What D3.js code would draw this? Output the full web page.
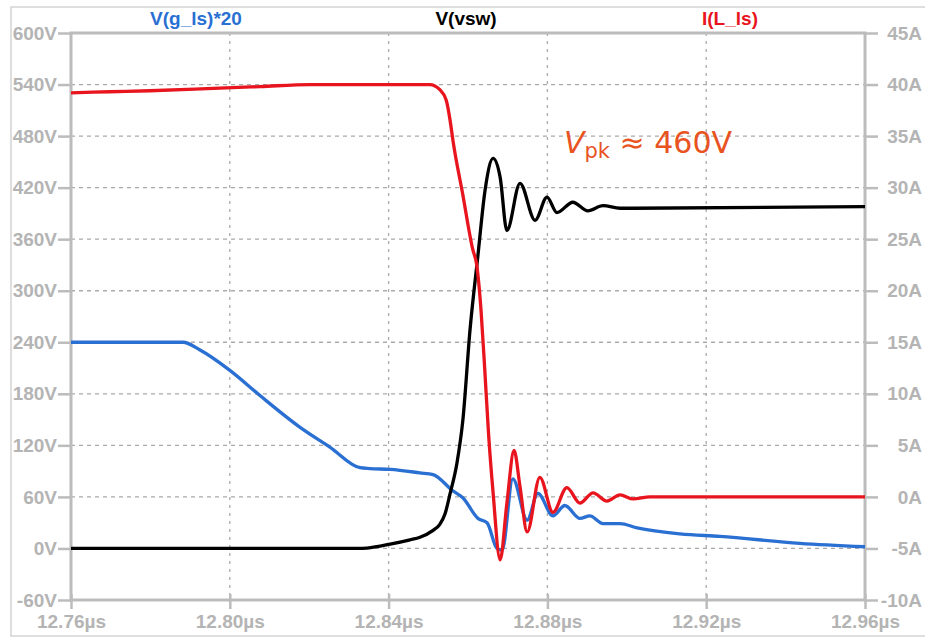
<!DOCTYPE html>
<html>
<head>
<meta charset="utf-8">
<script src="https://cdn.jsdelivr.net/npm/d3@7"></script>
<style>
  body { margin: 0; background: #fff; }
  svg { display: block; }
</style>
</head>
<body>
<svg id="chart" width="925" height="639"></svg>
<script>
// time axis ticks (µs)
const xTicks = [12.76, 12.80, 12.84, 12.88, 12.92, 12.96];
const vTicks = [-60, 0, 60, 120, 180, 240, 300, 360, 420, 480, 540, 600];
const aTicks = [-10, -5, 0, 5, 10, 15, 20, 25, 30, 35, 40, 45];

// V(g_ls)*20, volts on left axis
const gateT = [12.7600, 12.7882, 12.7925, 12.8001, 12.8076, 12.8177, 12.8252, 12.8328, 12.8353, 12.8404,
  12.8479, 12.8512, 12.8562, 12.8587, 12.8625, 12.8648, 12.8673, 12.8686, 12.8713, 12.8749, 12.8776,
  12.8814, 12.8844, 12.8882, 12.8907, 12.8940, 12.8983, 12.9026, 12.9134, 12.9235, 12.9436, 12.9600];
const gateV = [240, 240, 231, 207, 178, 141, 118, 94, 93, 92,
  88, 86, 67, 59, 35, 30, 0, -2, 81, 33, 64,
  38, 50, 35, 38, 29, 29, 24, 17, 14, 6, 2];

// V(vsw), volts on left axis
const vswT = [12.7600, 12.8328, 12.8346, 12.8404, 12.8454, 12.8479, 12.8512, 12.8529, 12.8542, 12.8555,
  12.8572, 12.8587, 12.8605, 12.8625, 12.8643, 12.8663, 12.8681, 12.8698, 12.8731, 12.8769, 12.8799,
  12.8824, 12.8864, 12.8902, 12.8940, 12.8983, 12.9600];
const vswV = [0, 0, 0.5, 5, 10, 13, 21, 28, 40, 64,
  99, 149, 254, 341, 417, 454, 432, 370, 425, 382, 409,
  391, 403, 393, 399, 396, 398];

// I(L_ls), amps on right axis
const ilT = [12.7600, 12.7698, 12.7799, 12.7943, 12.8076, 12.8202, 12.8421, 12.8504, 12.8529, 12.8545,
  12.8555, 12.8562, 12.8587, 12.8612, 12.8622, 12.8633, 12.8642, 12.8652, 12.8663, 12.8681,
  12.8698, 12.8716, 12.8731, 12.8749, 12.8781, 12.8814, 12.8849, 12.8882, 12.8915, 12.8950, 12.8983,
  12.9016, 12.9058, 12.9600];
const ilA = [39.2, 39.3, 39.4, 39.6, 39.8, 40.0, 40.0, 40.0, 39.5, 38.5,
  36.5, 34.6, 29.3, 24, 22.5, 18, 12.5, 6.0, 0.5, -6.1,
  -0.6, 4.5, 1.0, -3.4, 1.9, -1.5, 0.9, -0.6, 0.4, -0.4, 0.2,
  -0.2, 0, 0];

const plot = {left: 71, right: 865, top: 33, bottom: 600};
const axisColor = "#bcbcbc";
const labelColor = "#b4b4b4";

const svg = d3.select("#chart");

const x = d3.scaleLinear().domain([12.76, 12.96]).range([plot.left, plot.right]);
const yV = d3.scaleLinear().domain([-60, 600]).range([plot.bottom, plot.top]);
const yA = d3.scaleLinear().domain([-10, 45]).range([plot.bottom, plot.top]);

// outer picture frame
svg.append("rect")
    .attr("x", 11).attr("y", 7)
    .attr("width", 1000).attr("height", 629)
    .attr("fill", "none")
    .attr("stroke", "#d4d4d4")
    .attr("stroke-width", 1.5);

// grid
svg.append("g").selectAll("line")
    .data(vTicks.slice(1, -1))
    .enter().append("line")
    .attr("x1", plot.left).attr("x2", plot.right)
    .attr("y1", d => yV(d)).attr("y2", d => yV(d))
    .attr("stroke", "#aaaaaa")
    .attr("stroke-width", 1.3)
    .attr("stroke-dasharray", "4,4");

svg.append("g").selectAll("line")
    .data(xTicks.slice(1, -1))
    .enter().append("line")
    .attr("x1", d => x(d)).attr("x2", d => x(d))
    .attr("y1", plot.top).attr("y2", plot.bottom)
    .attr("stroke", "#aaaaaa")
    .attr("stroke-width", 1.3)
    .attr("stroke-dasharray", "3,5");

// axes with d3
const fontSpec = g => g.selectAll("text")
    .attr("fill", labelColor)
    .style("font-family", "'Liberation Sans', Arial, sans-serif")
    .style("font-size", "19px")
    .style("font-weight", "bold");

const leftAxis = svg.append("g")
    .attr("transform", `translate(${plot.left},0)`)
    .call(d3.axisLeft(yV).tickValues(vTicks).tickFormat(d => d + "V").tickSize(13).tickPadding(1));

const rightAxis = svg.append("g")
    .attr("transform", `translate(${plot.right},0)`)
    .call(d3.axisRight(yA).tickValues(aTicks).tickFormat(d => d + "A").tickSize(13).tickPadding(4));
rightAxis.selectAll("text").attr("text-anchor", "end").attr("x", 922 - plot.right);

const bottomAxis = svg.append("g")
    .attr("transform", `translate(0,${plot.bottom})`)
    .call(d3.axisBottom(x).tickValues(xTicks).tickFormat(d => d.toFixed(2) + "µs").tickSize(9).tickPadding(6));

[leftAxis, rightAxis, bottomAxis].forEach(g => {
    g.select(".domain").remove();
    g.selectAll(".tick line").attr("stroke", axisColor).attr("stroke-width", 2.5);
    fontSpec(g);
});
bottomAxis.selectAll(".tick line").attr("y1", -6);

// plot frame
svg.append("rect")
    .attr("x", plot.left).attr("y", plot.top)
    .attr("width", plot.right - plot.left)
    .attr("height", plot.bottom - plot.top)
    .attr("fill", "none")
    .attr("stroke", axisColor)
    .attr("stroke-width", 3);

// traces
svg.append("clipPath").attr("id", "clip")
    .append("rect")
    .attr("x", plot.left).attr("y", plot.top)
    .attr("width", plot.right - plot.left)
    .attr("height", plot.bottom - plot.top);

const traces = svg.append("g").attr("clip-path", "url(#clip)");

function addTrace(ts, vs, yScale, color) {
    const pts = ts.map((t, i) => [t, vs[i]]);
    const line = d3.line()
        .x(d => x(d[0]))
        .y(d => yScale(d[1]))
        .curve(d3.curveMonotoneX);
    traces.append("path")
        .datum(pts)
        .attr("d", line)
        .attr("fill", "none")
        .attr("stroke", color)
        .attr("stroke-width", 3.3)
        .attr("stroke-linejoin", "round");
}

addTrace(gateT, gateV, yV, "#2a6fd2");
addTrace(vswT, vswV, yV, "#000000");
addTrace(ilT, ilA, yA, "#e8141e");

// trace names above the plot
const legend = [
    {name: "V(g_ls)*20", color: "#2a6fd2", cx: 196},
    {name: "V(vsw)", color: "#000000", cx: 466},
    {name: "I(L_ls)", color: "#e8141e", cx: 730}
];
svg.selectAll(".legend")
    .data(legend)
    .enter().append("text")
    .attr("class", "legend")
    .attr("x", d => d.cx)
    .attr("y", 25)
    .attr("text-anchor", "middle")
    .attr("fill", d => d.color)
    .style("font-family", "'Liberation Sans', Arial, sans-serif")
    .style("font-size", "19px")
    .style("font-weight", "bold")
    .text(d => d.name);

// annotation
const note = svg.append("text")
    .attr("x", 564)
    .attr("y", 153)
    .attr("fill", "#e8531f")
    .style("font-family", "'DejaVu Sans', Verdana, sans-serif")
    .style("font-size", "30px");
note.append("tspan").style("font-style", "italic").text("V");
note.append("tspan").attr("dy", 5).style("font-size", "21px").text("pk");
note.append("tspan").attr("dy", -5).text(" ≈ 460V");
</script>
</body>
</html>
